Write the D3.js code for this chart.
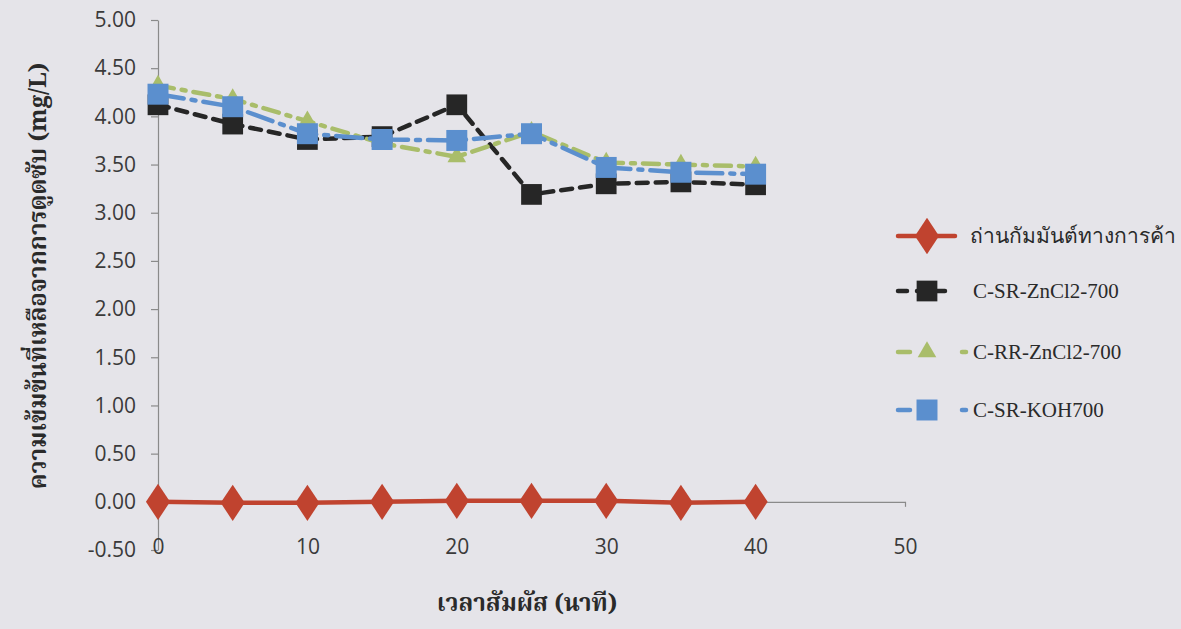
<!DOCTYPE html>
<html><head><meta charset="utf-8">
<script src="https://cdn.jsdelivr.net/npm/d3@7"></script>
<style>
html,body{margin:0;padding:0;background:#e5e4e9;}
svg{display:block;}
</style></head>
<body>
<svg id="chart" width="1181" height="629"></svg>
<script>
const times = [0, 5, 10, 15, 20, 25, 30, 35, 40];
const seriesNames = ["ถ่านกัมมันต์ทางการค้า", "C-SR-ZnCl2-700", "C-RR-ZnCl2-700", "C-SR-KOH700"];
const commercial = [0.00, -0.01, -0.01, 0.00, 0.01, 0.01, 0.01, -0.01, 0.00];
const srZn = [4.12, 3.92, 3.76, 3.79, 4.12, 3.19, 3.30, 3.32, 3.29];
const rrZn = [4.32, 4.18, 3.95, 3.72, 3.58, 3.84, 3.52, 3.50, 3.48];
const srKoh = [4.23, 4.10, 3.82, 3.76, 3.75, 3.82, 3.47, 3.42, 3.40];
const yTicks = [-0.5, 0, 0.5, 1, 1.5, 2, 2.5, 3, 3.5, 4, 4.5, 5];
const xTicks = [0, 10, 20, 30, 40, 50];
const yTitle = "ความเข้มข้นที่เหลือจากการดูดซับ (mg/L)";
const xTitle = "เวลาสัมผัส (นาที)";

const svg = d3.select("#chart");
const x = d3.scaleLinear().domain([0, 50]).range([158, 905]);
const y = d3.scaleLinear().domain([-0.5, 5]).range([550, 20]);

const tickFont = "'Open Sans', 'Liberation Sans', sans-serif";
const thaiFont = "'Noto Serif Thai','Noto Sans Thai','Tlwg Typo','Loma','Garuda','Liberation Serif','DejaVu Serif', serif";

// Y axis
const yAxis = d3.axisLeft(y).tickValues(yTicks).tickFormat(d => d.toFixed(2)).tickSize(7).tickSizeOuter(0);
const gy = svg.append("g").attr("transform", `translate(${x(0)},0)`).call(yAxis);
gy.select(".domain").attr("stroke", "#8a8a8a").attr("stroke-width", 1.2);
gy.selectAll(".tick line").attr("stroke", "#8a8a8a").attr("stroke-width", 1.2);
gy.selectAll(".tick text").attr("x", -22).attr("font-family", tickFont).attr("font-size", 21).attr("fill", "#3a3a3a");

// X axis at y=0, labels at bottom
const xAxis = d3.axisBottom(x).tickValues(xTicks).tickFormat(d => String(d)).tickSize(5).tickSizeOuter(0);
const gx = svg.append("g").attr("transform", `translate(0,${y(0)})`).call(xAxis);
gx.select(".domain").attr("stroke", "#8a8a8a").attr("stroke-width", 1.2);
gx.selectAll(".tick line").attr("stroke", "#8a8a8a").attr("stroke-width", 1.2);
gx.selectAll(".tick text").attr("y", y(-0.5) - y(0) - 11).attr("dy", "0.71em")
  .attr("font-family", tickFont).attr("font-size", 21).attr("fill", "#3a3a3a");

// Titles
svg.append("text").attr("transform", `translate(46,276) rotate(-90)`)
  .attr("text-anchor", "middle").attr("font-family", thaiFont).attr("font-weight", "bold")
  .attr("font-size", 24).attr("fill", "#2a2a2a").text(yTitle);
svg.append("text").attr("x", 527).attr("y", 611).attr("text-anchor", "middle")
  .attr("font-family", thaiFont).attr("font-weight", "bold").attr("font-size", 24)
  .attr("fill", "#2a2a2a").text(xTitle);

const series = [
  {name: seriesNames[0], vals: commercial, color: "#c0432f", dash: null, width: 4.5, marker: "diamond", msize: 380},
  {name: seriesNames[1], vals: srZn, color: "#262626", dash: "11,8", width: 4.5, marker: "square", msize: 430},
  {name: seriesNames[2], vals: rrZn, color: "#a9bd6a", dash: "16,8,4,8", width: 4.5, marker: "triangle", msize: 150},
  {name: seriesNames[3], vals: srKoh, color: "#5b8fce", dash: "26,8,4,8", width: 4.5, marker: "square", msize: 440}
];
const symType = {diamond: d3.symbolDiamond, square: d3.symbolSquare, triangle: d3.symbolTriangle};

const line = d3.line().x((d, i) => x(times[i])).y(d => y(d));
series.forEach(s => {
  const g = svg.append("g");
  g.append("path").datum(s.vals).attr("d", line).attr("fill", "none")
    .attr("stroke", s.color).attr("stroke-width", s.width)
    .attr("stroke-dasharray", s.dash).attr("stroke-linecap", "round");
  g.selectAll("path.m").data(s.vals).join("path").attr("class", "m")
    .attr("transform", (d, i) => `translate(${x(times[i])},${y(d)})${s.marker === "diamond" ? " scale(1.15,1)" : ""}`)
    .attr("d", d3.symbol().type(symType[s.marker]).size(s.msize))
    .attr("fill", s.color);
});

// Legend
const legY = [236, 291, 352, 410];
series.forEach((s, i) => {
  const g = svg.append("g").attr("transform", `translate(0,${legY[i]})`);
  g.append("line").attr("x1", 898).attr("x2", 955).attr("y1", 0).attr("y2", 0)
    .attr("stroke", s.color).attr("stroke-width", s.width)
    .attr("stroke-dasharray", i === 0 ? null : (i === 1 ? "9,10" : "12,50,3,100"))
    .attr("stroke-linecap", "round");
  if (i >= 2) {
    g.append("line").attr("x1", 962).attr("x2", 966).attr("y1", 0).attr("y2", 0)
      .attr("stroke", s.color).attr("stroke-width", s.width).attr("stroke-linecap", "round");
  }
  g.append("path").attr("transform", `translate(927,0)${s.marker === "diamond" ? " scale(1.15,1)" : ""}`)
    .attr("d", d3.symbol().type(symType[s.marker]).size(s.msize)).attr("fill", s.color);
  g.append("text").attr("x", i === 0 ? 970 : 973).attr("y", 0).attr("dy", "0.35em")
    .attr("font-family", "'Liberation Serif','Times New Roman', serif").attr("font-size", 21)
    .attr("fill", "#2a2a2a").text(s.name);
});
</script>
</body></html>
